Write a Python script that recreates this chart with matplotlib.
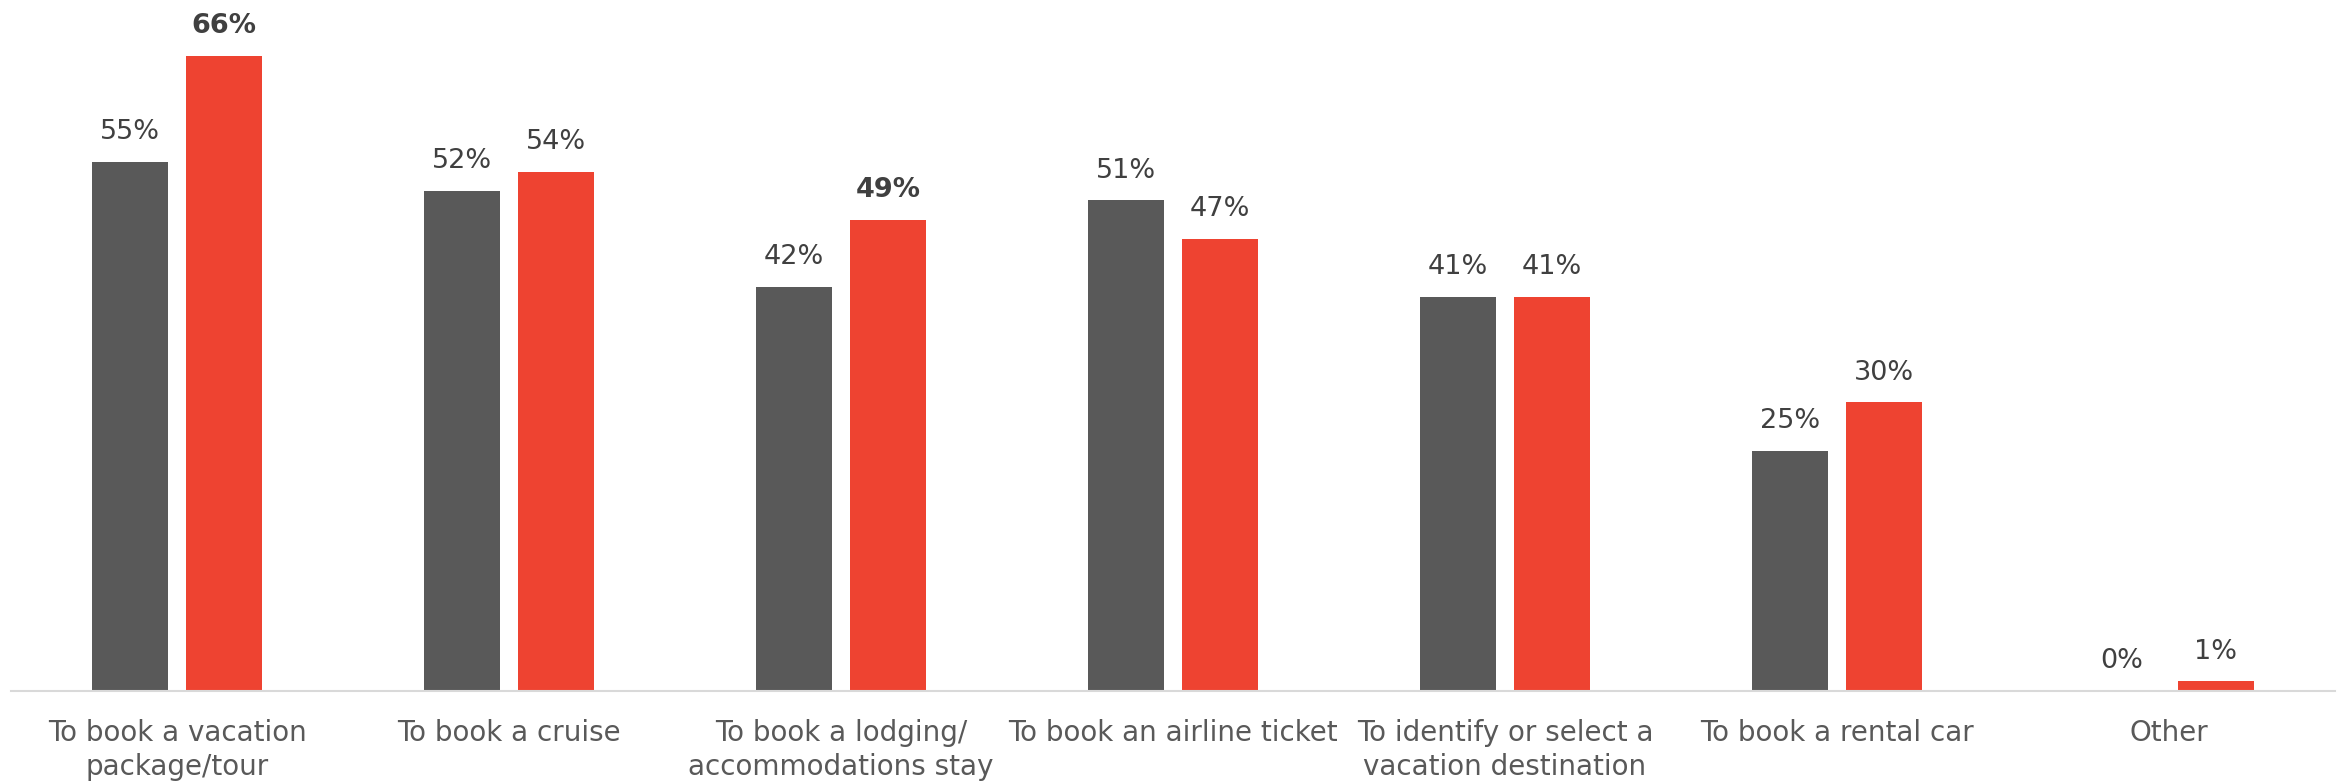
import matplotlib.pyplot as plt
import numpy as np

categories = [
    "To book a vacation\npackage/tour",
    "To book a cruise",
    "To book a lodging/\naccommodations stay",
    "To book an airline ticket",
    "To identify or select a\nvacation destination",
    "To book a rental car",
    "Other",
]
grey_values = [55, 52, 42, 51, 41, 25, 0]
red_values = [66, 54, 49, 47, 41, 30, 1]
bold_red = [True, False, True, False, False, False, False]

GREY = "#595959"
RED = "#EE4331"
TEXT = "#404040"

plt.rcParams["font.family"] = ["DejaVu Sans"]

fig = plt.figure(figsize=(23.49, 7.84), dpi=100)
ax = fig.add_axes([11 / 2349, 93 / 784, 2324 / 2349, 691 / 784])

x = np.arange(len(categories))
width = 0.229
offset = 0.1415

grey_bars = ax.bar(x - offset, grey_values, width, color=GREY)
red_bars = ax.bar(x + offset, red_values, width, color=RED)

# value labels above each bar, a few of the red ones in bold
for bar, v in zip(grey_bars, grey_values):
    ax.annotate(f"{v}%", (bar.get_x() + bar.get_width() / 2, v),
                xytext=(0, 12), textcoords="offset points",
                ha="center", va="bottom", fontsize=19.5, color=TEXT)
for bar, v, b in zip(red_bars, red_values, bold_red):
    ax.annotate(f"{v}%", (bar.get_x() + bar.get_width() / 2, v),
                xytext=(0, 12), textcoords="offset points",
                ha="center", va="bottom", fontsize=19.5, color=TEXT,
                fontweight="bold" if b else "normal")

ax.set_xlim(-0.5, len(categories) - 0.5)
ax.set_ylim(0, 71.83)

ax.set_xticks(x)
ax.set_xticklabels(categories, fontsize=20, color=GREY, linespacing=1.28)
ax.tick_params(axis="x", length=0, pad=20)
ax.set_yticks([])

for side in ["top", "right", "left"]:
    ax.spines[side].set_visible(False)
ax.spines["bottom"].set_color("#D9D9D9")
ax.spines["bottom"].set_linewidth(1.5)

fig.savefig("out.png", dpi=100)
